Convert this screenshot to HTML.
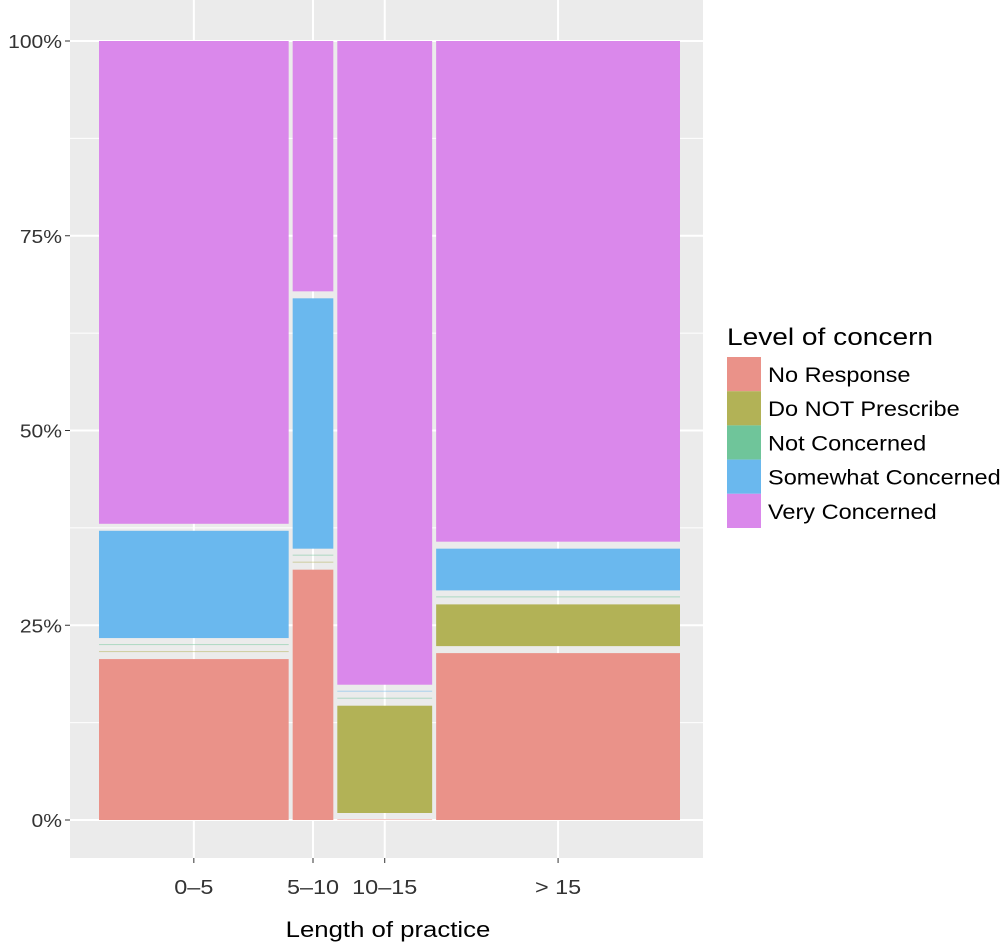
<!DOCTYPE html>
<html><head><meta charset="utf-8"><style>
body{margin:0;background:#fff;}
svg text{font-family:"Liberation Sans",sans-serif;}
</style></head><body>
<svg id="chart" width="1001" height="944" xmlns="http://www.w3.org/2000/svg">
<rect x="70" y="0" width="633" height="858" fill="#EBEBEB"/>
<g id="grid"></g><g id="marks"></g><g id="axes"></g>
<text class="st" x="388" y="937" font-size="22" text-anchor="middle" fill="#000">Length of practice</text>
<g>
<text class="st" x="727" y="345" font-size="24" fill="#000">Level of concern</text>
<g id="legend"></g></g>
</svg>
<script>
const categories=["0–5","5–10","10–15","> 15"];
const levels=["No Response","Do NOT Prescribe","Not Concerned","Somewhat Concerned","Very Concerned"];
const noResponse=[6,2,0,8];
const doNotPrescribe=[0,0,2,2];
const notConcerned=[0,0,0,0];
const somewhat=[4,2,0,2];
const very=[18,2,12,24];
const yTicks=[0,0.25,0.5,0.75,1];
const yTickLabels=["0%","25%","50%","75%","100%"];
const colors=["#EA9289","#B2B256","#6FC59A","#6AB8EE","#DA88EB"];
const NS="http://www.w3.org/2000/svg";
function mk(t,a,p){const e=document.createElementNS(NS,t);for(const k in a)e.setAttribute(k,a[k]);p.appendChild(e);return e;}
const X0=99,X1=680,GX=4,Y0=820,Y1=41,GY=7;
const series=[noResponse,doNotPrescribe,notConcerned,somewhat,very];
const totals=categories.map((c,i)=>series.reduce((s,a)=>s+a[i],0));
const grand=totals.reduce((a,b)=>a+b,0);
const availW=(X1-X0)-GX*(categories.length-1);
const availH=(Y0-Y1)-GY*(levels.length-1);
function yScale(v){return Y0-v*(Y0-Y1);}
const grid=document.getElementById('grid'),marks=document.getElementById('marks'),axes=document.getElementById('axes');
for(let i=0;i<yTicks.length;i++){
  const y=yScale(yTicks[i]);
  const l=mk('line',{x1:70,x2:703,y1:y,y2:y,stroke:'#fff','stroke-width':2},grid);
  
  
  if(i<yTicks.length-1){const ym=yScale((yTicks[i]+yTicks[i+1])/2);
    const m=mk('line',{x1:70,x2:703,y1:ym,y2:ym,stroke:'#fff','stroke-width':1},grid);
    
    }
  mk('line',{x1:65,x2:70,y1:y,y2:y,stroke:'#333','stroke-width':1},axes);
  const t=mk('text',{x:62,y:y+7,'font-size':18,'text-anchor':'end',fill:'#333',class:'st'},axes);
  t.textContent=yTickLabels[i];
  
  
}
let x=X0;
categories.forEach((c,i)=>{
  const w=totals[i]/grand*availW;
  const cx=x+w/2;
  const g=mk('line',{x1:cx,x2:cx,y1:0,y2:858,stroke:'#fff','stroke-width':2},grid);
  
  
  mk('line',{x1:cx,x2:cx,y1:858,y2:863,stroke:'#333'},axes);
  const t=mk('text',{x:cx,y:894,'font-size':20,'text-anchor':'middle',fill:'#333',class:'st'},axes);
  t.textContent=c;
  
  
  let yb=Y0;
  series.forEach((s,j)=>{
    const h=s[i]/totals[i]*availH;
    let r;
    if(h>0.5){r=mk('rect',{x:x,y:yb-h,width:w,height:h,fill:colors[j]},marks);}
    else{r=mk('rect',{x:x,y:yb-1,width:w,height:1,fill:colors[j],opacity:0.5},marks);}
    
    
    yb=yb-h-GY;
  });
  x+=w+GX;
});
const lg=document.getElementById('legend');
levels.forEach((l,j)=>{
  const y=357+j*34.2;
  const r=mk('rect',{x:727,y:y,width:34,height:34.2,fill:colors[j]},lg);
  
  
  const t=mk('text',{x:768,y:y+25,'font-size':21,fill:'#000',class:'st2'},lg);
  t.textContent=l;
  
  
});
function stretch(sel,k){document.querySelectorAll(sel).forEach(t=>{const n=t.getComputedTextLength();t.setAttribute('textLength',n*k);t.setAttribute('lengthAdjust','spacingAndGlyphs');});}
stretch('.st',1.17);stretch('.st2',1.12);
</script>
</body></html>
